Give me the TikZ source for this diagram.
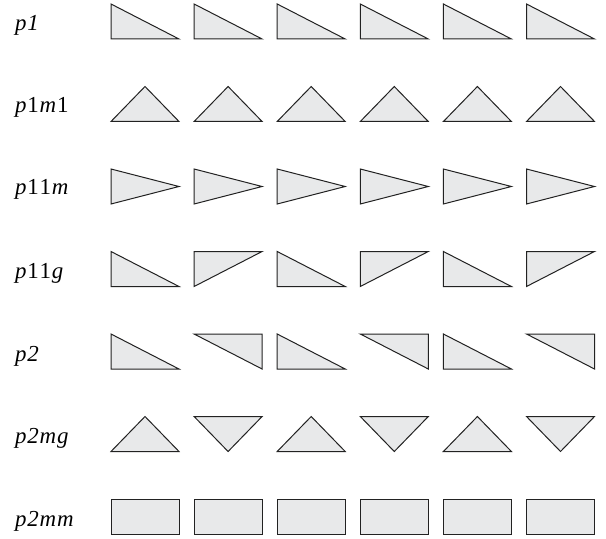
\documentclass[tikz,border=0pt]{standalone}
\usepackage{fontspec}
\setmainfont{Liberation Serif}[ItalicFont={Liberation Serif Italic}]
\definecolor{shapefill}{HTML}{E8E9EA}
\definecolor{shapeline}{HTML}{222222}
\newcommand{\gap}{\kern0.8pt}
\begin{document}
\begin{tikzpicture}[x=1bp,y=-1bp,
  tile/.style={draw=shapeline,fill=shapefill,line width=1bp,line join=miter},
  lbl/.style={anchor=base west,inner sep=0pt,font=\fontsize{23}{25}\selectfont\itshape}]
\useasboundingbox (0,0) rectangle (606,539);
\def\W{68}\def\H{35}
% labels
\node[lbl] (l1) at (15,31) {p\gap 1};
\node[lbl] (l2) at (15,113) {p\gap\textup{1}\gap m\gap\textup{1}};
\node[lbl] (l3) at (15,195) {p\gap\textup{1}\gap\textup{1}\gap m};
\node[lbl] (l4) at (15,278) {p\gap\textup{1}\gap\textup{1}\gap g};
\node[lbl] (l5) at (15,361) {p\gap 2};
\node[lbl] (l6) at (15,443) {p\gap 2\gap m\gap g};
\node[lbl] (l7) at (15,526) {p\gap 2\gap m\gap m};
\foreach \i in {0,...,5}{
  \pgfmathsetmacro{\L}{111+83.1*\i}
  \pgfmathsetmacro{\R}{\L+\W}
  \pgfmathsetmacro{\M}{\L+\W/2}
  \pgfmathtruncatemacro{\odd}{mod(\i,2)}
  % row 1 p1
  \draw[tile] (\L,4) -- (\L,4+\H) -- (\R,4+\H) -- cycle;
  % row 2 p1m1
  \draw[tile] (\M,86.5) -- (\L,86.5+\H) -- (\R,86.5+\H) -- cycle;
  % row 3 p11m
  \draw[tile] (\L,169) -- (\L,169+\H) -- (\R,169+\H/2) -- cycle;
  % row 4 p11g
  \ifnum\odd=0
    \draw[tile] (\L,251.5) -- (\L,251.5+\H) -- (\R,251.5+\H) -- cycle;
  \else
    \draw[tile] (\L,251.5) -- (\R,251.5) -- (\L,251.5+\H) -- cycle;
  \fi
  % row 5 p2
  \ifnum\odd=0
    \draw[tile] (\L,334) -- (\L,334+\H) -- (\R,334+\H) -- cycle;
  \else
    \draw[tile] (\L,334) -- (\R,334) -- (\R,334+\H) -- cycle;
  \fi
  % row 6 p2mg
  \ifnum\odd=0
    \draw[tile] (\M,416.5) -- (\L,416.5+\H) -- (\R,416.5+\H) -- cycle;
  \else
    \draw[tile] (\L,416.5) -- (\R,416.5) -- (\M,416.5+\H) -- cycle;
  \fi
  % row 7 p2mm
  \draw[tile] (\L,499) rectangle (\R,499+\H);
}
\end{tikzpicture}
\end{document}
